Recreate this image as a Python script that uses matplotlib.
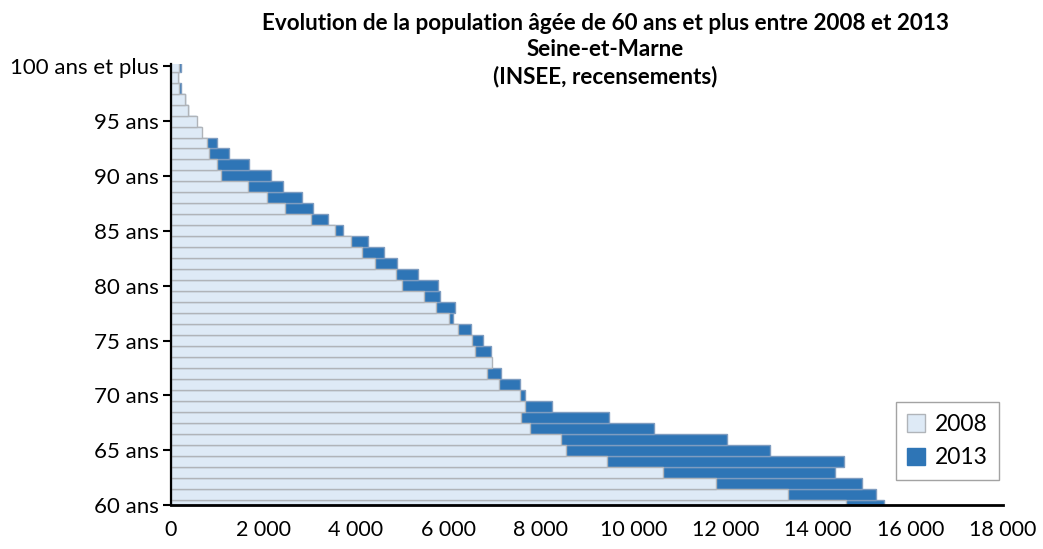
import numpy as np
import matplotlib
matplotlib.use('Agg')
import matplotlib.pyplot as plt
from matplotlib.ticker import FuncFormatter
from matplotlib.patches import Patch

# --- données ---
ages = list(range(60, 101))
pop_2008 = [14600, 13350, 11790, 10640, 9430, 8543, 8442, 7771, 7569, 7648,
            7554, 7100, 6833, 6941, 6573, 6508, 6205, 6010, 5729, 5469,
            4993, 4863, 4402, 4121, 3890, 3557, 3030, 2468, 2071, 1667,
            1075, 988, 816, 786, 664, 556, 375, 310, 180, 145,
            180]
pop_2013 = [15420, 15250, 14950, 14372, 14567, 12948, 12030, 10440, 9480, 8240,
            7655, 7547, 7128, 6880, 6926, 6746, 6487, 6097, 6133, 5815,
            5772, 5340, 4886, 4597, 4257, 3730, 3392, 3067, 2829, 2418,
            2158, 1695, 1249, 988, 640, 540, 360, 300, 216, 140,
            210]
tick_ages = [60, 65, 70, 75, 80, 85, 90, 95, 100]
tick_labels = ['60 ans', '65 ans', '70 ans', '75 ans', '80 ans', '85 ans',
               '90 ans', '95 ans', '100 ans et plus']
x_ticks = list(range(0, 18001, 2000))

plt.rcParams['font.family'] = ['Lato', 'DejaVu Sans']

fig = plt.figure(figsize=(10.43, 5.49), dpi=100)
ax = fig.add_axes([0.164, 0.080, 0.7977, 0.8034])

# 2013 derrière, 2008 devant (chevauchement complet)
ax.barh(ages, pop_2013, height=1.0, color='#2E75B6', edgecolor='#7E9CC0',
        linewidth=1.0, zorder=2)
ax.barh(ages, pop_2008, height=1.0, color='#DEEAF6', edgecolor='#B0B4B9',
        linewidth=1.0, zorder=3)

ax.set_xlim(0, 18000)
ax.set_ylim(60, 100.2)

ax.set_xticks(x_ticks)
ax.xaxis.set_major_formatter(FuncFormatter(lambda v, p: f'{int(v):,}'.replace(',', ' ')))
ax.set_yticks(tick_ages)
ax.set_yticklabels(tick_labels)

ax.tick_params(axis='x', length=0, pad=11, labelsize=15.5)
ax.tick_params(axis='y', length=6, width=1.5, pad=3, labelsize=16)

for s in ['top', 'right']:
    ax.spines[s].set_visible(False)
ax.spines['left'].set_linewidth(1.6)
ax.spines['bottom'].set_linewidth(2.0)
ax.spines['left'].set_zorder(5)
ax.spines['bottom'].set_zorder(5)

title_x = 0.580
fig.text(title_x, 0.958, 'Evolution de la population âgée de 60 ans et plus entre 2008 et 2013',
         ha='center', va='center', fontsize=16.2, fontweight='bold')
fig.text(title_x, 0.910, 'Seine-et-Marne', ha='center', va='center',
         fontsize=16.2, fontweight='bold')
fig.text(title_x, 0.861, '(INSEE, recensements)', ha='center', va='center',
         fontsize=16.2, fontweight='bold')

handles = [Patch(facecolor='#DEEAF6', edgecolor='#B0B4B9', label='2008'),
           Patch(facecolor='#2E75B6', edgecolor='#2E75B6', label='2013')]
leg = ax.legend(handles=handles, loc='lower right', bbox_to_anchor=(0.995, 0.057),
                borderaxespad=0, fontsize=16.5, frameon=True, fancybox=False,
                handlelength=0.8, handleheight=0.8, handletextpad=0.4,
                borderpad=0.5, labelspacing=0.55)
leg.get_frame().set_edgecolor('#8C8C8C')
leg.get_frame().set_linewidth(1.0)

fig.savefig('out.png', dpi=100)
